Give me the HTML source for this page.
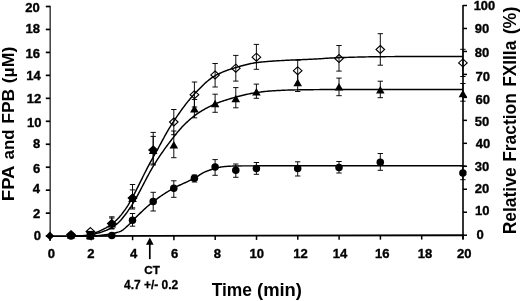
<!DOCTYPE html>
<html lang="en"><head><meta charset="utf-8"><title>FPA and FPB release and FXIIIa activation over time</title>
<style>
html,body{margin:0;padding:0;background:#fff;}
body{width:520px;height:301px;overflow:hidden;}
svg{display:block;filter:blur(0.45px);}
svg text{font-family:"Liberation Sans",Arial,Helvetica,sans-serif;font-weight:bold;fill:#000;}
</style></head><body>
<svg width="520" height="301" viewBox="0 0 520 301">
<rect width="520" height="301" fill="#fff"/>
<path d="M50.2 5.8V241.1" fill="none" stroke="#4a4a4a" stroke-width="1.6"/>
<path d="M463.0 4.9V239.39999999999998" fill="none" stroke="#000" stroke-width="1.6"/>
<path d="M49.25 236.1L463.8 235.2" fill="none" stroke="#000" stroke-width="1.9"/>
<path d="M45.8 236.10H50.0" stroke="#000" stroke-width="1.7"/>
<path d="M45.8 213.14H50.0" stroke="#000" stroke-width="1.7"/>
<path d="M45.8 190.18H50.0" stroke="#000" stroke-width="1.7"/>
<path d="M45.8 167.22H50.0" stroke="#000" stroke-width="1.7"/>
<path d="M45.8 144.26H50.0" stroke="#000" stroke-width="1.7"/>
<path d="M45.8 121.30H50.0" stroke="#000" stroke-width="1.7"/>
<path d="M45.8 98.34H50.0" stroke="#000" stroke-width="1.7"/>
<path d="M45.8 75.38H50.0" stroke="#000" stroke-width="1.7"/>
<path d="M45.8 52.42H50.0" stroke="#000" stroke-width="1.7"/>
<path d="M45.8 29.46H50.0" stroke="#000" stroke-width="1.7"/>
<path d="M45.8 6.50H50.0" stroke="#000" stroke-width="1.7"/>
<path d="M463.0 235.20H467" stroke="#000" stroke-width="1.5"/>
<path d="M463.0 212.23H467" stroke="#000" stroke-width="1.5"/>
<path d="M463.0 189.26H467" stroke="#000" stroke-width="1.5"/>
<path d="M463.0 166.29H467" stroke="#000" stroke-width="1.5"/>
<path d="M463.0 143.32H467" stroke="#000" stroke-width="1.5"/>
<path d="M463.0 120.35H467" stroke="#000" stroke-width="1.5"/>
<path d="M463.0 97.38H467" stroke="#000" stroke-width="1.5"/>
<path d="M463.0 74.41H467" stroke="#000" stroke-width="1.5"/>
<path d="M463.0 51.44H467" stroke="#000" stroke-width="1.5"/>
<path d="M463.0 28.47H467" stroke="#000" stroke-width="1.5"/>
<path d="M463.0 5.50H467" stroke="#000" stroke-width="1.5"/>
<path d="M50.00 236.10V240.40" stroke="#000" stroke-width="1.5"/>
<path d="M91.30 236.01V240.31" stroke="#000" stroke-width="1.5"/>
<path d="M132.60 235.92V240.22" stroke="#000" stroke-width="1.5"/>
<path d="M173.90 235.83V240.13" stroke="#000" stroke-width="1.5"/>
<path d="M215.20 235.74V240.04" stroke="#000" stroke-width="1.5"/>
<path d="M256.50 235.65V239.95" stroke="#000" stroke-width="1.5"/>
<path d="M297.80 235.56V239.86" stroke="#000" stroke-width="1.5"/>
<path d="M339.10 235.47V239.77" stroke="#000" stroke-width="1.5"/>
<path d="M380.40 235.38V239.68" stroke="#000" stroke-width="1.5"/>
<path d="M421.70 235.29V239.59" stroke="#000" stroke-width="1.5"/>
<path d="M463.00 235.20V239.50" stroke="#000" stroke-width="1.5"/>
<path d="M70.0 236.00 L71.0 236.00 L72.0 235.99 L73.0 235.98 L74.0 235.96 L75.0 235.94 L76.0 235.91 L77.0 235.88 L78.0 235.84 L79.0 235.80 L80.0 235.76 L81.0 235.71 L82.0 235.65 L83.0 235.60 L84.0 235.53 L85.0 235.47 L86.0 235.40 L87.0 235.29 L88.0 235.12 L89.0 234.89 L90.0 234.61 L91.0 234.30 L92.0 233.96 L93.0 233.60 L94.0 233.24 L95.0 232.88 L96.0 232.52 L97.0 232.15 L98.0 231.76 L99.0 231.34 L100.0 230.90 L101.0 230.44 L102.0 229.96 L103.0 229.46 L104.0 228.94 L105.0 228.40 L106.0 227.84 L107.0 227.24 L108.0 226.62 L109.0 225.96 L110.0 225.27 L111.0 224.56 L112.0 223.81 L113.0 223.04 L114.0 222.23 L115.0 221.40 L116.0 220.51 L117.0 219.54 L118.0 218.51 L119.0 217.43 L120.0 216.30 L121.0 215.12 L122.0 213.86 L123.0 212.55 L124.0 211.19 L125.0 209.80 L126.0 208.38 L127.0 206.89 L128.0 205.33 L129.0 203.67 L130.0 201.95 L131.0 200.18 L132.0 198.36 L133.0 196.49 L134.0 194.59 L135.0 192.65 L136.0 190.68 L137.0 188.69 L138.0 186.68 L139.0 184.66 L140.0 182.63 L141.0 180.59 L142.0 178.56 L143.0 176.53 L144.0 174.52 L145.0 172.52 L146.0 170.55 L147.0 168.60 L148.0 166.69 L149.0 164.81 L150.0 162.97 L151.0 161.14 L152.0 159.32 L153.0 157.52 L154.0 155.72 L155.0 153.94 L156.0 152.15 L157.0 150.36 L158.0 148.56 L159.0 146.74 L160.0 144.90 L161.0 143.05 L162.0 141.20 L163.0 139.36 L164.0 137.52 L165.0 135.70 L166.0 133.90 L167.0 132.13 L168.0 130.40 L169.0 128.70 L170.0 127.06 L171.0 125.47 L172.0 123.92 L173.0 122.39 L174.0 120.87 L175.0 119.37 L176.0 117.88 L177.0 116.40 L178.0 114.94 L179.0 113.50 L180.0 112.07 L181.0 110.66 L182.0 109.27 L183.0 107.91 L184.0 106.56 L185.0 105.23 L186.0 103.93 L187.0 102.65 L188.0 101.40 L189.0 100.17 L190.0 98.96 L191.0 97.79 L192.0 96.64 L193.0 95.52 L194.0 94.43 L195.0 93.37 L196.0 92.32 L197.0 91.27 L198.0 90.22 L199.0 89.19 L200.0 88.17 L201.0 87.16 L202.0 86.17 L203.0 85.20 L204.0 84.25 L205.0 83.32 L206.0 82.41 L207.0 81.54 L208.0 80.69 L209.0 79.87 L210.0 79.09 L211.0 78.35 L212.0 77.64 L213.0 76.97 L214.0 76.35 L215.0 75.77 L216.0 75.22 L217.0 74.70 L218.0 74.20 L219.0 73.72 L220.0 73.25 L221.0 72.80 L222.0 72.36 L223.0 71.94 L224.0 71.54 L225.0 71.14 L226.0 70.76 L227.0 70.39 L228.0 70.03 L229.0 69.68 L230.0 69.35 L231.0 69.02 L232.0 68.69 L233.0 68.38 L234.0 68.07 L235.0 67.77 L236.0 67.47 L237.0 67.18 L238.0 66.88 L239.0 66.59 L240.0 66.31 L241.0 66.02 L242.0 65.75 L243.0 65.47 L244.0 65.21 L245.0 64.95 L246.0 64.69 L247.0 64.45 L248.0 64.21 L249.0 63.98 L250.0 63.76 L251.0 63.55 L252.0 63.36 L253.0 63.17 L254.0 62.99 L255.0 62.83 L256.0 62.68 L257.0 62.55 L258.0 62.42 L259.0 62.30 L260.0 62.19 L261.0 62.08 L262.0 61.97 L263.0 61.88 L264.0 61.78 L265.0 61.70 L266.0 61.61 L267.0 61.53 L268.0 61.45 L269.0 61.37 L270.0 61.30 L271.0 61.23 L272.0 61.16 L273.0 61.09 L274.0 61.02 L275.0 60.96 L276.0 60.89 L277.0 60.83 L278.0 60.77 L279.0 60.71 L280.0 60.65 L281.0 60.60 L282.0 60.54 L283.0 60.49 L284.0 60.44 L285.0 60.38 L286.0 60.33 L287.0 60.28 L288.0 60.23 L289.0 60.18 L290.0 60.13 L291.0 60.09 L292.0 60.04 L293.0 59.99 L294.0 59.95 L295.0 59.90 L296.0 59.86 L297.0 59.81 L298.0 59.77 L299.0 59.73 L300.0 59.69 L301.0 59.66 L302.0 59.62 L303.0 59.58 L304.0 59.54 L305.0 59.51 L306.0 59.47 L307.0 59.43 L308.0 59.39 L309.0 59.34 L310.0 59.30 L311.0 59.25 L312.0 59.20 L313.0 59.15 L314.0 59.09 L315.0 59.04 L316.0 58.98 L317.0 58.92 L318.0 58.86 L319.0 58.79 L320.0 58.73 L321.0 58.66 L322.0 58.60 L323.0 58.53 L324.0 58.47 L325.0 58.40 L326.0 58.34 L327.0 58.27 L328.0 58.21 L329.0 58.15 L330.0 58.08 L331.0 58.03 L332.0 57.97 L333.0 57.91 L334.0 57.86 L335.0 57.81 L336.0 57.76 L337.0 57.72 L338.0 57.67 L339.0 57.63 L340.0 57.60 L341.0 57.57 L342.0 57.53 L343.0 57.50 L344.0 57.47 L345.0 57.44 L346.0 57.41 L347.0 57.38 L348.0 57.35 L349.0 57.32 L350.0 57.29 L351.0 57.26 L352.0 57.23 L353.0 57.21 L354.0 57.18 L355.0 57.15 L356.0 57.13 L357.0 57.10 L358.0 57.07 L359.0 57.05 L360.0 57.03 L361.0 57.00 L362.0 56.98 L363.0 56.96 L364.0 56.94 L365.0 56.92 L366.0 56.90 L367.0 56.88 L368.0 56.86 L369.0 56.84 L370.0 56.82 L371.0 56.81 L372.0 56.79 L373.0 56.78 L374.0 56.76 L375.0 56.75 L376.0 56.74 L377.0 56.73 L378.0 56.72 L379.0 56.71 L380.0 56.70 L381.0 56.69 L382.0 56.68 L383.0 56.68 L384.0 56.67 L385.0 56.66 L386.0 56.65 L387.0 56.64 L388.0 56.64 L389.0 56.63 L390.0 56.62 L391.0 56.62 L392.0 56.61 L393.0 56.60 L394.0 56.60 L395.0 56.59 L396.0 56.58 L397.0 56.58 L398.0 56.57 L399.0 56.56 L400.0 56.56 L401.0 56.55 L402.0 56.55 L403.0 56.54 L404.0 56.54 L405.0 56.53 L406.0 56.53 L407.0 56.53 L408.0 56.52 L409.0 56.52 L410.0 56.52 L411.0 56.51 L412.0 56.51 L413.0 56.51 L414.0 56.51 L415.0 56.50 L416.0 56.50 L417.0 56.50 L418.0 56.50 L419.0 56.50 L420.0 56.50 L421.0 56.50 L422.0 56.50 L423.0 56.50 L424.0 56.50 L425.0 56.50 L426.0 56.50 L427.0 56.50 L428.0 56.50 L429.0 56.50 L430.0 56.50 L431.0 56.50 L432.0 56.50 L433.0 56.50 L434.0 56.50 L435.0 56.50 L436.0 56.50 L437.0 56.50 L438.0 56.50 L439.0 56.50 L440.0 56.50 L441.0 56.50 L442.0 56.50 L443.0 56.50 L444.0 56.50 L445.0 56.50 L446.0 56.50 L447.0 56.50 L448.0 56.50 L449.0 56.50 L450.0 56.50 L451.0 56.50 L452.0 56.50 L453.0 56.50 L454.0 56.50 L455.0 56.50 L456.0 56.50 L457.0 56.50 L458.0 56.50 L459.0 56.50 L460.0 56.50 L461.0 56.50 L462.0 56.50 L463.0 56.50" fill="none" stroke="#000" stroke-width="1.45" stroke-linejoin="round"/>
<path d="M70.0 236.00 L71.0 236.00 L72.0 235.99 L73.0 235.99 L74.0 235.98 L75.0 235.97 L76.0 235.95 L77.0 235.94 L78.0 235.92 L79.0 235.90 L80.0 235.88 L81.0 235.85 L82.0 235.83 L83.0 235.80 L84.0 235.77 L85.0 235.73 L86.0 235.70 L87.0 235.64 L88.0 235.54 L89.0 235.40 L90.0 235.22 L91.0 235.02 L92.0 234.79 L93.0 234.53 L94.0 234.26 L95.0 233.98 L96.0 233.68 L97.0 233.38 L98.0 233.08 L99.0 232.79 L100.0 232.50 L101.0 232.21 L102.0 231.89 L103.0 231.54 L104.0 231.18 L105.0 230.80 L106.0 230.40 L107.0 229.97 L108.0 229.51 L109.0 229.02 L110.0 228.50 L111.0 227.94 L112.0 227.35 L113.0 226.73 L114.0 226.07 L115.0 225.37 L116.0 224.63 L117.0 223.84 L118.0 223.00 L119.0 222.08 L120.0 221.05 L121.0 219.94 L122.0 218.75 L123.0 217.52 L124.0 216.27 L125.0 215.00 L126.0 213.69 L127.0 212.32 L128.0 210.90 L129.0 209.46 L130.0 208.00 L131.0 206.54 L132.0 205.00 L133.0 203.37 L134.0 201.69 L135.0 199.97 L136.0 198.20 L137.0 196.40 L138.0 194.56 L139.0 192.70 L140.0 190.82 L141.0 188.92 L142.0 187.01 L143.0 185.09 L144.0 183.17 L145.0 181.26 L146.0 179.35 L147.0 177.46 L148.0 175.58 L149.0 173.73 L150.0 171.91 L151.0 170.12 L152.0 168.37 L153.0 166.66 L154.0 165.00 L155.0 163.38 L156.0 161.79 L157.0 160.23 L158.0 158.69 L159.0 157.17 L160.0 155.67 L161.0 154.20 L162.0 152.74 L163.0 151.29 L164.0 149.86 L165.0 148.45 L166.0 147.07 L167.0 145.73 L168.0 144.42 L169.0 143.10 L170.0 141.79 L171.0 140.48 L172.0 139.18 L173.0 137.88 L174.0 136.60 L175.0 135.33 L176.0 134.07 L177.0 132.84 L178.0 131.62 L179.0 130.44 L180.0 129.28 L181.0 128.16 L182.0 127.07 L183.0 126.01 L184.0 125.00 L185.0 124.02 L186.0 123.05 L187.0 122.11 L188.0 121.19 L189.0 120.28 L190.0 119.40 L191.0 118.54 L192.0 117.71 L193.0 116.90 L194.0 116.12 L195.0 115.36 L196.0 114.64 L197.0 113.94 L198.0 113.27 L199.0 112.61 L200.0 111.97 L201.0 111.34 L202.0 110.72 L203.0 110.12 L204.0 109.53 L205.0 108.96 L206.0 108.40 L207.0 107.85 L208.0 107.32 L209.0 106.80 L210.0 106.30 L211.0 105.81 L212.0 105.34 L213.0 104.88 L214.0 104.44 L215.0 104.01 L216.0 103.60 L217.0 103.19 L218.0 102.80 L219.0 102.42 L220.0 102.05 L221.0 101.69 L222.0 101.34 L223.0 100.99 L224.0 100.66 L225.0 100.33 L226.0 100.01 L227.0 99.69 L228.0 99.38 L229.0 99.08 L230.0 98.78 L231.0 98.49 L232.0 98.20 L233.0 97.91 L234.0 97.63 L235.0 97.35 L236.0 97.07 L237.0 96.80 L238.0 96.53 L239.0 96.26 L240.0 96.00 L241.0 95.74 L242.0 95.49 L243.0 95.24 L244.0 95.00 L245.0 94.77 L246.0 94.54 L247.0 94.32 L248.0 94.10 L249.0 93.90 L250.0 93.70 L251.0 93.51 L252.0 93.33 L253.0 93.16 L254.0 92.99 L255.0 92.84 L256.0 92.69 L257.0 92.54 L258.0 92.40 L259.0 92.26 L260.0 92.12 L261.0 91.98 L262.0 91.84 L263.0 91.71 L264.0 91.59 L265.0 91.47 L266.0 91.36 L267.0 91.25 L268.0 91.16 L269.0 91.07 L270.0 91.00 L271.0 90.93 L272.0 90.87 L273.0 90.80 L274.0 90.74 L275.0 90.68 L276.0 90.62 L277.0 90.57 L278.0 90.51 L279.0 90.46 L280.0 90.41 L281.0 90.36 L282.0 90.31 L283.0 90.27 L284.0 90.22 L285.0 90.18 L286.0 90.14 L287.0 90.11 L288.0 90.07 L289.0 90.04 L290.0 90.01 L291.0 89.98 L292.0 89.96 L293.0 89.94 L294.0 89.92 L295.0 89.90 L296.0 89.88 L297.0 89.87 L298.0 89.85 L299.0 89.84 L300.0 89.82 L301.0 89.81 L302.0 89.80 L303.0 89.78 L304.0 89.77 L305.0 89.75 L306.0 89.74 L307.0 89.73 L308.0 89.72 L309.0 89.70 L310.0 89.69 L311.0 89.68 L312.0 89.67 L313.0 89.66 L314.0 89.65 L315.0 89.64 L316.0 89.63 L317.0 89.62 L318.0 89.61 L319.0 89.60 L320.0 89.59 L321.0 89.58 L322.0 89.57 L323.0 89.57 L324.0 89.56 L325.0 89.55 L326.0 89.54 L327.0 89.54 L328.0 89.53 L329.0 89.53 L330.0 89.52 L331.0 89.52 L332.0 89.51 L333.0 89.51 L334.0 89.51 L335.0 89.51 L336.0 89.50 L337.0 89.50 L338.0 89.50 L339.0 89.50 L340.0 89.50 L341.0 89.50 L342.0 89.50 L343.0 89.50 L344.0 89.50 L345.0 89.50 L346.0 89.50 L347.0 89.50 L348.0 89.50 L349.0 89.50 L350.0 89.50 L351.0 89.50 L352.0 89.50 L353.0 89.50 L354.0 89.50 L355.0 89.50 L356.0 89.50 L357.0 89.50 L358.0 89.50 L359.0 89.50 L360.0 89.50 L361.0 89.50 L362.0 89.50 L363.0 89.50 L364.0 89.50 L365.0 89.50 L366.0 89.50 L367.0 89.50 L368.0 89.50 L369.0 89.50 L370.0 89.50 L371.0 89.50 L372.0 89.50 L373.0 89.50 L374.0 89.50 L375.0 89.50 L376.0 89.50 L377.0 89.50 L378.0 89.50 L379.0 89.50 L380.0 89.50 L381.0 89.50 L382.0 89.50 L383.0 89.50 L384.0 89.50 L385.0 89.50 L386.0 89.50 L387.0 89.50 L388.0 89.50 L389.0 89.50 L390.0 89.50 L391.0 89.50 L392.0 89.50 L393.0 89.50 L394.0 89.50 L395.0 89.50 L396.0 89.50 L397.0 89.50 L398.0 89.50 L399.0 89.50 L400.0 89.50 L401.0 89.50 L402.0 89.50 L403.0 89.50 L404.0 89.50 L405.0 89.50 L406.0 89.50 L407.0 89.50 L408.0 89.50 L409.0 89.50 L410.0 89.50 L411.0 89.50 L412.0 89.50 L413.0 89.50 L414.0 89.50 L415.0 89.50 L416.0 89.50 L417.0 89.50 L418.0 89.50 L419.0 89.50 L420.0 89.50 L421.0 89.50 L422.0 89.50 L423.0 89.50 L424.0 89.50 L425.0 89.50 L426.0 89.50 L427.0 89.50 L428.0 89.50 L429.0 89.50 L430.0 89.50 L431.0 89.50 L432.0 89.50 L433.0 89.50 L434.0 89.50 L435.0 89.50 L436.0 89.50 L437.0 89.50 L438.0 89.50 L439.0 89.50 L440.0 89.50 L441.0 89.50 L442.0 89.50 L443.0 89.50 L444.0 89.50 L445.0 89.50 L446.0 89.50 L447.0 89.50 L448.0 89.50 L449.0 89.50 L450.0 89.50 L451.0 89.50 L452.0 89.50 L453.0 89.50 L454.0 89.50 L455.0 89.50 L456.0 89.50 L457.0 89.50 L458.0 89.50 L459.0 89.50 L460.0 89.50 L461.0 89.50 L462.0 89.50 L463.0 89.50" fill="none" stroke="#000" stroke-width="1.45" stroke-linejoin="round"/>
<path d="M80.0 236.00 L81.0 236.00 L82.0 236.00 L83.0 235.99 L84.0 235.98 L85.0 235.98 L86.0 235.97 L87.0 235.95 L88.0 235.94 L89.0 235.92 L90.0 235.91 L91.0 235.89 L92.0 235.87 L93.0 235.85 L94.0 235.82 L95.0 235.80 L96.0 235.76 L97.0 235.71 L98.0 235.63 L99.0 235.54 L100.0 235.44 L101.0 235.32 L102.0 235.20 L103.0 235.07 L104.0 234.93 L105.0 234.80 L106.0 234.66 L107.0 234.52 L108.0 234.37 L109.0 234.21 L110.0 234.05 L111.0 233.87 L112.0 233.67 L113.0 233.47 L114.0 233.25 L115.0 233.01 L116.0 232.75 L117.0 232.47 L118.0 232.17 L119.0 231.85 L120.0 231.50 L121.0 231.07 L122.0 230.50 L123.0 229.82 L124.0 229.04 L125.0 228.20 L126.0 227.30 L127.0 226.37 L128.0 225.43 L129.0 224.50 L130.0 223.50 L131.0 222.41 L132.0 221.32 L133.0 220.30 L134.0 219.30 L135.0 218.30 L136.0 217.30 L137.0 216.31 L138.0 215.32 L139.0 214.34 L140.0 213.36 L141.0 212.39 L142.0 211.44 L143.0 210.49 L144.0 209.55 L145.0 208.63 L146.0 207.72 L147.0 206.82 L148.0 205.94 L149.0 205.08 L150.0 204.23 L151.0 203.40 L152.0 202.59 L153.0 201.81 L154.0 201.04 L155.0 200.29 L156.0 199.55 L157.0 198.82 L158.0 198.10 L159.0 197.39 L160.0 196.69 L161.0 196.00 L162.0 195.33 L163.0 194.67 L164.0 194.01 L165.0 193.37 L166.0 192.73 L167.0 192.11 L168.0 191.50 L169.0 190.90 L170.0 190.30 L171.0 189.72 L172.0 189.14 L173.0 188.58 L174.0 188.02 L175.0 187.49 L176.0 186.97 L177.0 186.46 L178.0 185.97 L179.0 185.50 L180.0 185.03 L181.0 184.57 L182.0 184.11 L183.0 183.66 L184.0 183.21 L185.0 182.77 L186.0 182.32 L187.0 181.87 L188.0 181.41 L189.0 180.95 L190.0 180.47 L191.0 179.99 L192.0 179.50 L193.0 178.99 L194.0 178.46 L195.0 177.91 L196.0 177.32 L197.0 176.69 L198.0 176.04 L199.0 175.38 L200.0 174.73 L201.0 174.08 L202.0 173.47 L203.0 172.89 L204.0 172.37 L205.0 171.90 L206.0 171.48 L207.0 171.09 L208.0 170.72 L209.0 170.37 L210.0 170.04 L211.0 169.72 L212.0 169.41 L213.0 169.11 L214.0 168.81 L215.0 168.52 L216.0 168.22 L217.0 167.91 L218.0 167.62 L219.0 167.36 L220.0 167.16 L221.0 167.00 L222.0 166.85 L223.0 166.72 L224.0 166.61 L225.0 166.52 L226.0 166.44 L227.0 166.36 L228.0 166.29 L229.0 166.23 L230.0 166.18 L231.0 166.13 L232.0 166.10 L233.0 166.06 L234.0 166.03 L235.0 166.00 L236.0 165.97 L237.0 165.94 L238.0 165.92 L239.0 165.91 L240.0 165.90 L241.0 165.90 L242.0 165.89 L243.0 165.89 L244.0 165.88 L245.0 165.88 L246.0 165.88 L247.0 165.88 L248.0 165.87 L249.0 165.87 L250.0 165.87 L251.0 165.86 L252.0 165.86 L253.0 165.86 L254.0 165.86 L255.0 165.85 L256.0 165.85 L257.0 165.85 L258.0 165.85 L259.0 165.84 L260.0 165.84 L261.0 165.84 L262.0 165.84 L263.0 165.84 L264.0 165.84 L265.0 165.83 L266.0 165.83 L267.0 165.83 L268.0 165.83 L269.0 165.83 L270.0 165.83 L271.0 165.83 L272.0 165.82 L273.0 165.82 L274.0 165.82 L275.0 165.82 L276.0 165.82 L277.0 165.82 L278.0 165.82 L279.0 165.82 L280.0 165.82 L281.0 165.82 L282.0 165.81 L283.0 165.81 L284.0 165.81 L285.0 165.81 L286.0 165.81 L287.0 165.81 L288.0 165.81 L289.0 165.81 L290.0 165.81 L291.0 165.81 L292.0 165.81 L293.0 165.81 L294.0 165.81 L295.0 165.80 L296.0 165.80 L297.0 165.80 L298.0 165.80 L299.0 165.80 L300.0 165.80 L301.0 165.80 L302.0 165.80 L303.0 165.80 L304.0 165.80 L305.0 165.80 L306.0 165.79 L307.0 165.79 L308.0 165.79 L309.0 165.79 L310.0 165.79 L311.0 165.79 L312.0 165.79 L313.0 165.79 L314.0 165.79 L315.0 165.79 L316.0 165.78 L317.0 165.78 L318.0 165.78 L319.0 165.78 L320.0 165.78 L321.0 165.78 L322.0 165.78 L323.0 165.78 L324.0 165.78 L325.0 165.78 L326.0 165.78 L327.0 165.77 L328.0 165.77 L329.0 165.77 L330.0 165.77 L331.0 165.77 L332.0 165.77 L333.0 165.77 L334.0 165.77 L335.0 165.77 L336.0 165.77 L337.0 165.77 L338.0 165.76 L339.0 165.76 L340.0 165.76 L341.0 165.76 L342.0 165.76 L343.0 165.76 L344.0 165.76 L345.0 165.76 L346.0 165.76 L347.0 165.76 L348.0 165.76 L349.0 165.76 L350.0 165.75 L351.0 165.75 L352.0 165.75 L353.0 165.75 L354.0 165.75 L355.0 165.75 L356.0 165.75 L357.0 165.75 L358.0 165.75 L359.0 165.75 L360.0 165.75 L361.0 165.75 L362.0 165.74 L363.0 165.74 L364.0 165.74 L365.0 165.74 L366.0 165.74 L367.0 165.74 L368.0 165.74 L369.0 165.74 L370.0 165.74 L371.0 165.74 L372.0 165.74 L373.0 165.74 L374.0 165.74 L375.0 165.73 L376.0 165.73 L377.0 165.73 L378.0 165.73 L379.0 165.73 L380.0 165.73 L381.0 165.73 L382.0 165.73 L383.0 165.73 L384.0 165.73 L385.0 165.73 L386.0 165.73 L387.0 165.73 L388.0 165.73 L389.0 165.73 L390.0 165.72 L391.0 165.72 L392.0 165.72 L393.0 165.72 L394.0 165.72 L395.0 165.72 L396.0 165.72 L397.0 165.72 L398.0 165.72 L399.0 165.72 L400.0 165.72 L401.0 165.72 L402.0 165.72 L403.0 165.72 L404.0 165.72 L405.0 165.72 L406.0 165.72 L407.0 165.72 L408.0 165.71 L409.0 165.71 L410.0 165.71 L411.0 165.71 L412.0 165.71 L413.0 165.71 L414.0 165.71 L415.0 165.71 L416.0 165.71 L417.0 165.71 L418.0 165.71 L419.0 165.71 L420.0 165.71 L421.0 165.71 L422.0 165.71 L423.0 165.71 L424.0 165.71 L425.0 165.71 L426.0 165.71 L427.0 165.71 L428.0 165.71 L429.0 165.71 L430.0 165.71 L431.0 165.71 L432.0 165.70 L433.0 165.70 L434.0 165.70 L435.0 165.70 L436.0 165.70 L437.0 165.70 L438.0 165.70 L439.0 165.70 L440.0 165.70 L441.0 165.70 L442.0 165.70 L443.0 165.70 L444.0 165.70 L445.0 165.70 L446.0 165.70 L447.0 165.70 L448.0 165.70 L449.0 165.70 L450.0 165.70 L451.0 165.70 L452.0 165.70 L453.0 165.70 L454.0 165.70 L455.0 165.70 L456.0 165.70 L457.0 165.70 L458.0 165.70 L459.0 165.70 L460.0 165.70 L461.0 165.70 L462.0 165.70 L463.0 165.70" fill="none" stroke="#000" stroke-width="1.45" stroke-linejoin="round"/>
<path d="M111.8 216.8V228.5M109.1 216.8h5.4M109.1 228.5h5.4" fill="none" stroke="#000" stroke-width="0.95"/>
<path d="M132.5 184.5V209.0M129.8 184.5h5.4M129.8 209.0h5.4" fill="none" stroke="#000" stroke-width="0.95"/>
<path d="M153.2 132.4V165.0M150.5 132.4h5.4M150.5 165.0h5.4" fill="none" stroke="#000" stroke-width="0.95"/>
<path d="M173.8 109.5V134.7M171.1 109.5h5.4M171.1 134.7h5.4" fill="none" stroke="#000" stroke-width="0.95"/>
<path d="M194.4 82.0V107.0M191.8 82.0h5.4M191.8 107.0h5.4" fill="none" stroke="#000" stroke-width="0.95"/>
<path d="M215.1 63.5V87.0M212.4 63.5h5.4M212.4 87.0h5.4" fill="none" stroke="#000" stroke-width="0.95"/>
<path d="M235.8 55.4V81.1M233.1 55.4h5.4M233.1 81.1h5.4" fill="none" stroke="#000" stroke-width="0.95"/>
<path d="M256.4 44.4V69.3M253.7 44.4h5.4M253.7 69.3h5.4" fill="none" stroke="#000" stroke-width="0.95"/>
<path d="M297.7 60.2V81.0M295.0 60.2h5.4" fill="none" stroke="#000" stroke-width="0.95"/>
<path d="M339.0 45.5V71.1M336.3 45.5h5.4M336.3 71.1h5.4" fill="none" stroke="#000" stroke-width="0.95"/>
<path d="M380.3 33.7V65.2M377.6 33.7h5.4M377.6 65.2h5.4" fill="none" stroke="#000" stroke-width="0.95"/>
<path d="M462.9 49.3V76.5M460.2 49.3h5.4M460.2 76.5h5.4" fill="none" stroke="#000" stroke-width="0.95"/>
<path d="M111.8 218.0V229.0M109.1 218.0h5.4M109.1 229.0h5.4" fill="none" stroke="#000" stroke-width="0.95"/>
<path d="M132.5 189.9V207.8M129.8 189.9h5.4M129.8 207.8h5.4" fill="none" stroke="#000" stroke-width="0.95"/>
<path d="M153.2 136.4V164.0M150.5 136.4h5.4M150.5 164.0h5.4" fill="none" stroke="#000" stroke-width="0.95"/>
<path d="M173.8 131.0V157.7M171.1 131.0h5.4M171.1 157.7h5.4" fill="none" stroke="#000" stroke-width="0.95"/>
<path d="M194.4 99.5V117.8M191.8 99.5h5.4M191.8 117.8h5.4" fill="none" stroke="#000" stroke-width="0.95"/>
<path d="M215.1 94.2V112.3M212.4 94.2h5.4M212.4 112.3h5.4" fill="none" stroke="#000" stroke-width="0.95"/>
<path d="M235.8 87.6V107.8M233.1 87.6h5.4M233.1 107.8h5.4" fill="none" stroke="#000" stroke-width="0.95"/>
<path d="M256.4 84.1V98.3M253.7 84.1h5.4M253.7 98.3h5.4" fill="none" stroke="#000" stroke-width="0.95"/>
<path d="M297.7 75.0V91.5M295.0 91.5h5.4" fill="none" stroke="#000" stroke-width="0.95"/>
<path d="M339.0 78.1V95.7M336.3 78.1h5.4M336.3 95.7h5.4" fill="none" stroke="#000" stroke-width="0.95"/>
<path d="M380.3 81.2V97.7M377.6 81.2h5.4M377.6 97.7h5.4" fill="none" stroke="#000" stroke-width="0.95"/>
<path d="M462.9 83.5V101.2M460.2 83.5h5.4M460.2 101.2h5.4" fill="none" stroke="#000" stroke-width="0.95"/>
<path d="M132.5 213.5V226.2M129.8 213.5h5.4M129.8 226.2h5.4" fill="none" stroke="#000" stroke-width="0.95"/>
<path d="M153.2 192.3V211.0M150.5 192.3h5.4M150.5 211.0h5.4" fill="none" stroke="#000" stroke-width="0.95"/>
<path d="M173.8 180.8V197.3M171.1 180.8h5.4M171.1 197.3h5.4" fill="none" stroke="#000" stroke-width="0.95"/>
<path d="M194.4 175.0V182.0M191.8 175.0h5.4M191.8 182.0h5.4" fill="none" stroke="#000" stroke-width="0.95"/>
<path d="M215.1 159.6V175.3M212.4 159.6h5.4M212.4 175.3h5.4" fill="none" stroke="#000" stroke-width="0.95"/>
<path d="M235.8 164.0V177.3M233.1 164.0h5.4M233.1 177.3h5.4" fill="none" stroke="#000" stroke-width="0.95"/>
<path d="M256.4 162.5V174.3M253.7 162.5h5.4M253.7 174.3h5.4" fill="none" stroke="#000" stroke-width="0.95"/>
<path d="M297.7 161.8V176.0M295.0 161.8h5.4M295.0 176.0h5.4" fill="none" stroke="#000" stroke-width="0.95"/>
<path d="M339.0 161.5V173.0M336.3 161.5h5.4M336.3 173.0h5.4" fill="none" stroke="#000" stroke-width="0.95"/>
<path d="M380.3 153.5V170.3M377.6 153.5h5.4M377.6 170.3h5.4" fill="none" stroke="#000" stroke-width="0.95"/>
<path d="M462.9 165.9V179.7M460.2 165.9h5.4M460.2 179.7h5.4" fill="none" stroke="#000" stroke-width="0.95"/>
<circle cx="71.0" cy="236.0" r="3.75" fill="#000"/>
<circle cx="90.4" cy="236.0" r="3.75" fill="#000"/>
<circle cx="111.8" cy="235.4" r="3.75" fill="#000"/>
<circle cx="132.5" cy="220.2" r="3.75" fill="#000"/>
<circle cx="153.2" cy="201.5" r="3.75" fill="#000"/>
<circle cx="173.8" cy="188.3" r="3.75" fill="#000"/>
<circle cx="194.4" cy="178.3" r="3.75" fill="#000"/>
<circle cx="215.1" cy="167.0" r="3.75" fill="#000"/>
<circle cx="235.8" cy="170.3" r="3.75" fill="#000"/>
<circle cx="256.4" cy="168.6" r="3.75" fill="#000"/>
<circle cx="297.7" cy="168.6" r="3.75" fill="#000"/>
<circle cx="339.0" cy="167.6" r="3.75" fill="#000"/>
<circle cx="380.3" cy="162.2" r="3.75" fill="#000"/>
<circle cx="462.9" cy="173.0" r="3.75" fill="#000"/>
<path d="M71.0 230.8L75.3 238.4H66.7Z" fill="#000"/>
<path d="M90.4 231.2L94.7 238.8H86.1Z" fill="#000"/>
<path d="M111.8 219.8L116.1 227.4H107.5Z" fill="#000"/>
<path d="M132.5 194.4L136.8 202.0H128.2Z" fill="#000"/>
<path d="M153.2 146.4L157.5 154.0H148.8Z" fill="#000"/>
<path d="M173.8 140.9L178.1 148.5H169.5Z" fill="#000"/>
<path d="M194.4 104.9L198.8 112.5H190.1Z" fill="#000"/>
<path d="M215.1 99.7L219.4 107.3H210.8Z" fill="#000"/>
<path d="M235.8 94.7L240.1 102.3H231.4Z" fill="#000"/>
<path d="M256.4 87.9L260.7 95.5H252.1Z" fill="#000"/>
<path d="M297.7 78.7L302.0 86.3H293.4Z" fill="#000"/>
<path d="M339.0 82.9L343.3 90.5H334.7Z" fill="#000"/>
<path d="M380.3 85.9L384.6 93.5H376.0Z" fill="#000"/>
<path d="M462.9 89.7L467.2 97.3H458.6Z" fill="#000"/>
<path d="M71.0 230.7L75.3 234.6L71.0 238.5L66.7 234.6Z" fill="#000" stroke="#000" stroke-width="1.1"/>
<path d="M90.4 227.6L94.7 231.5L90.4 235.4L86.1 231.5Z" fill="none" stroke="#000" stroke-width="1.1"/>
<path d="M111.8 219.6L116.1 223.5L111.8 227.4L107.5 223.5Z" fill="#000" stroke="#000" stroke-width="1.1"/>
<path d="M132.5 194.1L136.8 198.0L132.5 201.9L128.2 198.0Z" fill="#000" stroke="#000" stroke-width="1.1"/>
<path d="M153.2 146.0L157.5 149.9L153.2 153.8L148.8 149.9Z" fill="#000" stroke="#000" stroke-width="1.1"/>
<path d="M173.8 118.0L178.1 122.0L173.8 126.0L169.5 122.0Z" fill="none" stroke="#000" stroke-width="1.1"/>
<path d="M194.4 90.8L198.8 94.7L194.4 98.7L190.1 94.7Z" fill="none" stroke="#000" stroke-width="1.1"/>
<path d="M215.1 71.0L219.4 74.9L215.1 78.9L210.8 74.9Z" fill="none" stroke="#000" stroke-width="1.1"/>
<path d="M235.8 64.2L240.1 68.2L235.8 72.2L231.4 68.2Z" fill="none" stroke="#000" stroke-width="1.1"/>
<path d="M256.4 53.2L260.7 57.2L256.4 61.2L252.1 57.2Z" fill="none" stroke="#000" stroke-width="1.1"/>
<path d="M297.7 66.8L302.0 70.7L297.7 74.7L293.4 70.7Z" fill="none" stroke="#000" stroke-width="1.1"/>
<path d="M339.0 54.5L343.3 58.5L339.0 62.5L334.7 58.5Z" fill="none" stroke="#000" stroke-width="1.1"/>
<path d="M380.3 45.5L384.6 49.5L380.3 53.5L376.0 49.5Z" fill="none" stroke="#000" stroke-width="1.1"/>
<path d="M462.9 58.9L467.2 62.9L462.9 66.8L458.6 62.9Z" fill="none" stroke="#000" stroke-width="1.1"/>
<rect x="86.6" y="230.9" width="7.3" height="8.7" fill="#000"/>
<path d="M49.9 231.6L54.2 235.9L49.9 240.2L45.6 235.9Z" fill="#000"/>
<path d="M149.8 244V259.1" stroke="#000" stroke-width="1.7"/>
<path d="M149.8 237.4L153.6 244.8H146.0Z" fill="#000"/>
<text transform="translate(37.38 240.26) scale(0.975 1)" text-anchor="middle" style="font-size:13.4px;stroke:#000;stroke-width:0.35px">0</text>
<text transform="translate(36.57 217.76) scale(0.975 1)" text-anchor="middle" style="font-size:13.4px;stroke:#000;stroke-width:0.35px">2</text>
<text transform="translate(36.31 193.02) scale(0.975 1)" text-anchor="middle" style="font-size:13.4px;stroke:#000;stroke-width:0.35px">4</text>
<text transform="translate(36.57 173.11) scale(0.975 1)" text-anchor="middle" style="font-size:13.4px;stroke:#000;stroke-width:0.35px">6</text>
<text transform="translate(36.56 147.86) scale(0.975 1)" text-anchor="middle" style="font-size:13.4px;stroke:#000;stroke-width:0.35px">8</text>
<text transform="translate(34.15 127.01) scale(0.975 1)" text-anchor="middle" style="font-size:13.4px;stroke:#000;stroke-width:0.35px">10</text>
<text transform="translate(34.10 103.39) scale(0.975 1)" text-anchor="middle" style="font-size:13.4px;stroke:#000;stroke-width:0.35px">12</text>
<text transform="translate(33.40 79.83) scale(0.975 1)" text-anchor="middle" style="font-size:13.4px;stroke:#000;stroke-width:0.35px">14</text>
<text transform="translate(32.81 57.56) scale(0.975 1)" text-anchor="middle" style="font-size:13.4px;stroke:#000;stroke-width:0.35px">16</text>
<text transform="translate(32.82 33.24) scale(0.975 1)" text-anchor="middle" style="font-size:13.4px;stroke:#000;stroke-width:0.35px">18</text>
<text transform="translate(32.56 11.79) scale(0.975 1)" text-anchor="middle" style="font-size:13.4px;stroke:#000;stroke-width:0.35px">20</text>
<text transform="translate(484.35 9.84) scale(1.08 1)" text-anchor="middle" style="font-size:11.9px;stroke:#000;stroke-width:0.35px">100</text>
<text transform="translate(481.99 33.49) scale(0.975 1)" text-anchor="middle" style="font-size:13.4px;stroke:#000;stroke-width:0.35px">90</text>
<text transform="translate(481.99 56.84) scale(0.975 1)" text-anchor="middle" style="font-size:13.4px;stroke:#000;stroke-width:0.35px">80</text>
<text transform="translate(482.88 81.01) scale(0.975 1)" text-anchor="middle" style="font-size:13.4px;stroke:#000;stroke-width:0.35px">70</text>
<text transform="translate(482.88 103.96) scale(0.975 1)" text-anchor="middle" style="font-size:13.4px;stroke:#000;stroke-width:0.35px">60</text>
<text transform="translate(481.99 126.21) scale(0.975 1)" text-anchor="middle" style="font-size:13.4px;stroke:#000;stroke-width:0.35px">50</text>
<text transform="translate(483.03 147.64) scale(0.975 1)" text-anchor="middle" style="font-size:13.4px;stroke:#000;stroke-width:0.35px">40</text>
<text transform="translate(482.12 170.94) scale(0.975 1)" text-anchor="middle" style="font-size:13.4px;stroke:#000;stroke-width:0.35px">30</text>
<text transform="translate(481.99 192.86) scale(0.975 1)" text-anchor="middle" style="font-size:13.4px;stroke:#000;stroke-width:0.35px">20</text>
<text transform="translate(482.22 214.79) scale(0.975 1)" text-anchor="middle" style="font-size:13.4px;stroke:#000;stroke-width:0.35px">10</text>
<text transform="translate(480.17 238.51) scale(0.975 1)" text-anchor="middle" style="font-size:13.4px;stroke:#000;stroke-width:0.35px">0</text>
<text transform="translate(51.50 257.64) scale(0.975 1)" text-anchor="middle" style="font-size:13.4px;stroke:#000;stroke-width:0.35px">0</text>
<text transform="translate(90.99 257.64) scale(0.975 1)" text-anchor="middle" style="font-size:13.4px;stroke:#000;stroke-width:0.35px">2</text>
<text transform="translate(133.54 257.52) scale(0.975 1)" text-anchor="middle" style="font-size:13.4px;stroke:#000;stroke-width:0.35px">4</text>
<text transform="translate(174.51 257.64) scale(0.975 1)" text-anchor="middle" style="font-size:13.4px;stroke:#000;stroke-width:0.35px">6</text>
<text transform="translate(217.49 257.64) scale(0.975 1)" text-anchor="middle" style="font-size:13.4px;stroke:#000;stroke-width:0.35px">8</text>
<text transform="translate(256.88 257.64) scale(0.975 1)" text-anchor="middle" style="font-size:13.4px;stroke:#000;stroke-width:0.35px">10</text>
<text transform="translate(300.40 257.64) scale(0.975 1)" text-anchor="middle" style="font-size:13.4px;stroke:#000;stroke-width:0.35px">12</text>
<text transform="translate(340.10 257.52) scale(0.975 1)" text-anchor="middle" style="font-size:13.4px;stroke:#000;stroke-width:0.35px">14</text>
<text transform="translate(382.25 257.64) scale(0.975 1)" text-anchor="middle" style="font-size:13.4px;stroke:#000;stroke-width:0.35px">16</text>
<text transform="translate(424.91 257.64) scale(0.975 1)" text-anchor="middle" style="font-size:13.4px;stroke:#000;stroke-width:0.35px">18</text>
<text transform="translate(464.33 257.64) scale(0.975 1)" text-anchor="middle" style="font-size:13.4px;stroke:#000;stroke-width:0.35px">20</text>
<text x="231.85" y="296.2" text-anchor="middle" style="font-size:17.6px" textLength="40.3" lengthAdjust="spacingAndGlyphs">Time</text>
<text x="279.5" y="296.2" text-anchor="middle" style="font-size:17.6px" textLength="45.0" lengthAdjust="spacingAndGlyphs">(min)</text>
<text transform="translate(14.2 183.35) rotate(-90)" text-anchor="middle" style="font-size:17.4px" textLength="35.7" lengthAdjust="spacingAndGlyphs">FPA</text>
<text transform="translate(14.2 144.45) rotate(-90)" text-anchor="middle" style="font-size:17.4px" textLength="30.0" lengthAdjust="spacingAndGlyphs">and</text>
<text transform="translate(14.2 106.25) rotate(-90)" text-anchor="middle" style="font-size:17.4px" textLength="35.1" lengthAdjust="spacingAndGlyphs">FPB</text>
<text transform="translate(14.2 65.00) rotate(-90)" text-anchor="middle" style="font-size:17.4px" textLength="36.6" lengthAdjust="spacingAndGlyphs">(µM)</text>
<text transform="translate(515.5 200.85) rotate(-90)" text-anchor="middle" style="font-size:17.9px" textLength="67.0" lengthAdjust="spacingAndGlyphs">Relative</text>
<text transform="translate(515.5 127.50) rotate(-90)" text-anchor="middle" style="font-size:17.9px" textLength="68.5" lengthAdjust="spacingAndGlyphs">Fraction</text>
<text transform="translate(515.5 63.75) rotate(-90)" text-anchor="middle" style="font-size:17.9px" textLength="46.0" lengthAdjust="spacingAndGlyphs">FXIIIa</text>
<text transform="translate(515.5 20.50) rotate(-90)" text-anchor="middle" style="font-size:17.9px" textLength="27.6" lengthAdjust="spacingAndGlyphs">(%)</text>
<text x="152.1" y="273.8" text-anchor="middle" style="font-size:11.6px;stroke:#000;stroke-width:0.3px" textLength="15.6" lengthAdjust="spacingAndGlyphs">CT</text>
<text x="151.1" y="288.7" text-anchor="middle" style="font-size:12.1px;stroke:#000;stroke-width:0.3px" textLength="54.2" lengthAdjust="spacingAndGlyphs">4.7 +/- 0.2</text>
</svg>
</body></html>
